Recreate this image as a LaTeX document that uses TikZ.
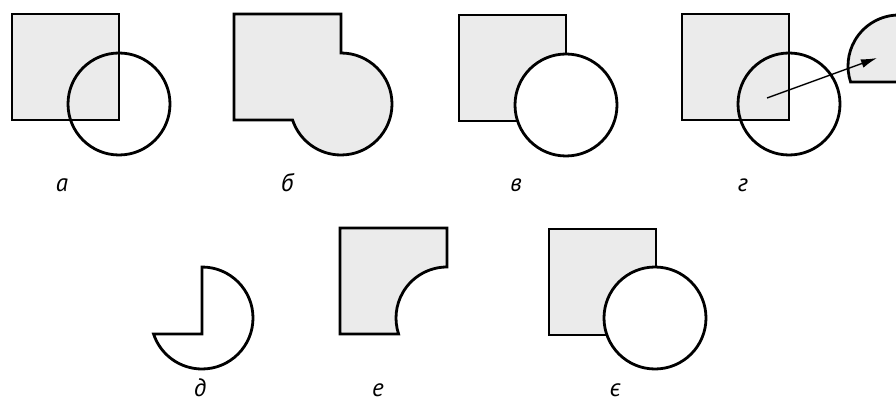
\documentclass[tikz,border=0pt]{standalone}
\usepackage{fontspec}
\newfontfamily\lab{PT Sans}
\usetikzlibrary{arrows.meta}
\definecolor{shade}{HTML}{EBEBEB}
\tikzset{
  outline/.style={line width=2.8pt, line join=miter},
  grayfill/.style={outline, fill=shade, draw=black},
  whitefill/.style={outline, fill=white, draw=black},
  lbl/.style={font=\lab\itshape\fontsize{25}{25}\selectfont, anchor=base, inner sep=0pt},
  arr/.style={line width=1.4pt, -{Latex[length=16pt,width=9pt]}}
}
\begin{document}
\begin{tikzpicture}[x=1pt,y=1pt]
\clip (0,0) rectangle (896,402);
\fill[white] (0,0) rectangle (896,402);
% a
\draw[grayfill] (12,282) rectangle (119,388);
\draw[outline] (119,298) circle (51);
\node[lbl] (la) at (62,210) {а};
% b
\draw[grayfill] (234,282) -- (234,388) -- (341,388) -- (341,349)
  arc[start angle=90, end angle=-161.7, radius=51] -- cycle;
\node[lbl] (lb) at (287,210) {б};
% v
\draw[grayfill] (459,281) rectangle (566,387);
\draw[whitefill] (566,297) circle (51);
\node[lbl] (lv) at (516,210) {в};
% g
\draw[grayfill] (682,282) rectangle (789,388);
\draw[outline] (789,298) circle (51);
\draw[grayfill] (899,387) arc[start angle=90, end angle=198.3, radius=51] -- (899,320) -- cycle;
\coordinate (gs) at (767,304);
\coordinate (ge) at (877,344);
\draw[arr] (gs) -- (ge);
\node[lbl] (lg) at (743,210) {г};
% d
\draw[outline] (202,68) -- (202,135) arc[start angle=90, end angle=-161.7, radius=51] -- cycle;
\node[lbl] (ld) at (200,6) {д};
% e
\draw[grayfill] (340,68) -- (340,174) -- (447,174) -- (447,135)
  arc[start angle=90, end angle=198.3, radius=51] -- cycle;
\node[lbl] (le) at (378,6) {е};
% ye
\draw[grayfill] (549,67) rectangle (656,173);
\draw[whitefill] (655,84) circle (51);
\node[lbl] (lye) at (615,6) {є};
\end{tikzpicture}
\end{document}
